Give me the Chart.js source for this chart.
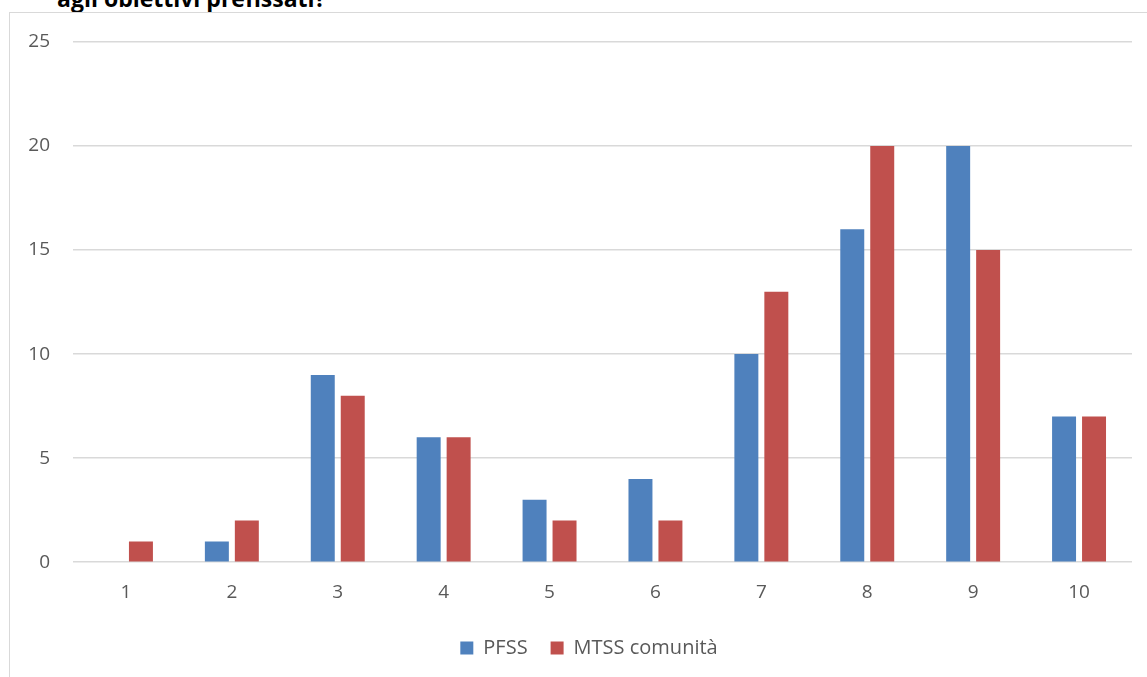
<!DOCTYPE html>
<html>
<head>
<meta charset="utf-8">
<script src="https://cdn.jsdelivr.net/npm/chart.js@4/dist/chart.umd.min.js"></script>
<style>
  html, body { margin: 0; padding: 0; background: #fff; overflow: hidden; }
  #wrap { position: relative; width: 1147px; height: 677px; overflow: hidden; }
  #titolo { position: absolute; left: 57px; top: -18px; line-height: 23px; font: bold 23px "Open Sans", sans-serif; color: #000; white-space: nowrap; }
  #box { position: absolute; left: 9px; top: 12px; width: 1200px; height: 700px; border-left: 1.5px solid #d9d9d9; border-top: 1.5px solid #d9d9d9; }
  canvas { position: absolute; left: 0; top: 0; }
</style>
</head>
<body>
<div id="wrap">
  <div id="titolo">agli obiettivi prefissati?</div>
  <div id="box"></div>
  <canvas id="grafico" width="1178" height="677"></canvas>
</div>
<script>
const categorie = ['1', '2', '3', '4', '5', '6', '7', '8', '9', '10'];
const pfss = [0, 1, 9, 6, 3, 4, 10, 16, 20, 7];
const mtss = [1, 2, 8, 6, 2, 2, 13, 20, 15, 7];
const yTicks = [0, 5, 10, 15, 20, 25];

const grigio = '#595959';
const fontAssi = { family: 'Open Sans', size: 19 };
const fontLegenda = { family: 'Open Sans', size: 20 };

const ctx = document.getElementById('grafico').getContext('2d');
const grafico = new Chart(ctx, {
    type: 'bar',
    data: {
        labels: categorie,
        datasets: [
            { label: 'PFSS', data: pfss, backgroundColor: '#4f81bd' },
            { label: 'MTSS comunità', data: mtss, backgroundColor: '#c0504d' }
        ]
    },
    options: {
        responsive: false,
        animation: false,
        categoryPercentage: 0.566,
        barPercentage: 0.8,
        layout: { padding: { top: 42, right: 0, bottom: 9, left: 0 } },
        plugins: {
            tooltip: { enabled: false },
            legend: {
                position: 'bottom',
                labels: {
                    boxWidth: 13,
                    boxHeight: 13,
                    padding: 23,
                    color: grigio,
                    font: fontLegenda
                }
            }
        },
        scales: {
            x: {
                grid: { display: false },
                border: { display: false },
                ticks: { color: grigio, padding: 11, font: fontAssi }
            },
            y: {
                min: 0,
                max: 25,
                afterBuildTicks: scale => { scale.ticks = yTicks.map(v => ({ value: v })); },
                afterFit: scale => { scale.width = 73; },
                grid: { color: '#d9d9d9', lineWidth: 1.5, drawTicks: false },
                border: { display: false },
                ticks: { color: grigio, padding: 23, font: fontAssi }
            },
            // asse vuoto a destra: lascia spazio come nel riquadro originale
            destra: {
                type: 'linear',
                position: 'right',
                grid: { display: false },
                border: { display: false },
                ticks: { display: false },
                afterFit: scale => { scale.width = 46; }
            }
        }
    }
});
</script>
</body>
</html>
